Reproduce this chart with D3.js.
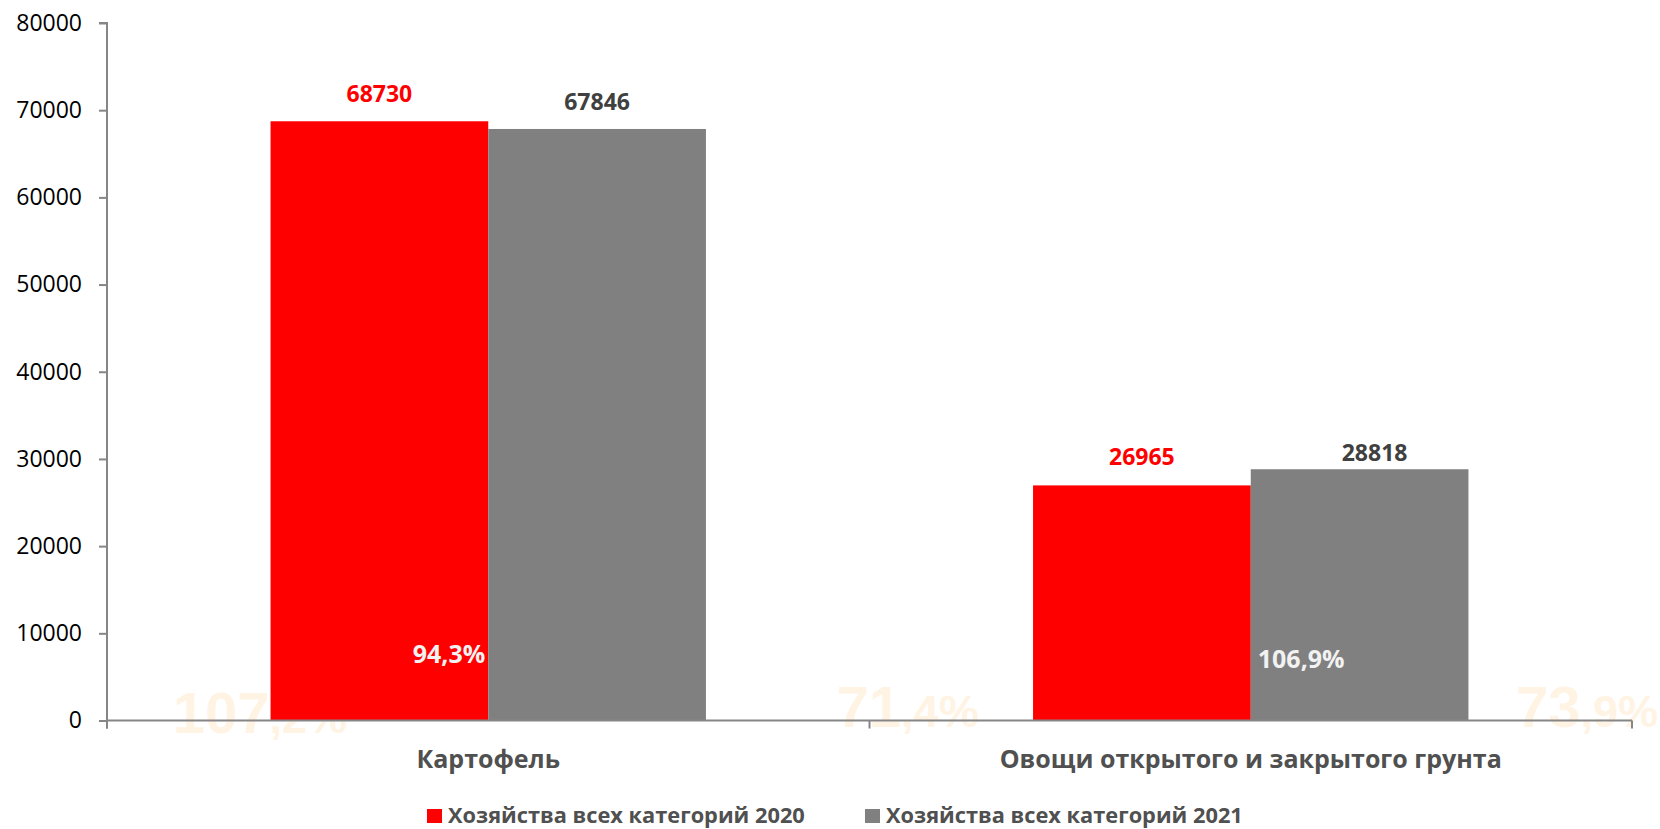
<!DOCTYPE html>
<html>
<head>
<meta charset="utf-8">
<script src="https://cdn.jsdelivr.net/npm/d3@7"></script>
<style>
  body { margin: 0; background: #fff; }
  svg { display: block; }
</style>
</head>
<body>
<div id="chart"></div>
<script>
// data
const categories = ["Картофель", "Овощи открытого и закрытого грунта"];
const seriesNames = ["Хозяйства всех категорий 2020", "Хозяйства всех категорий 2021"];
const values2020 = [68730, 26965];
const values2021 = [67846, 28818];
const innerPercents = ["94,3%", "106,9%"];
const fadedPercents = ["107,2%", "71,4%", "73,9%"];
const yTicks = [0, 10000, 20000, 30000, 40000, 50000, 60000, 70000, 80000];

const width = 1660, height = 829;
const margin = {top: 23, right: 28, bottom: 108.5, left: 107};
const innerW = width - margin.left - margin.right,
      innerH = height - margin.top - margin.bottom;

const barColors = ["#ff0000", "#808080"],
      labelColors = ["#ff0000", "#404040"],
      axisColor = "#868686",
      textGrey = "#505050";

const svg = d3.select("#chart").append("svg")
    .attr("width", width)
    .attr("height", height);

const g = svg.append("g")
    .attr("transform", `translate(${margin.left},${margin.top})`);

// scales
const x0 = d3.scaleBand().domain(categories).range([0, innerW]);
const groupW = x0.bandwidth() * 0.571;
const x1 = d3.scaleBand().domain([0, 1])
    .range([(x0.bandwidth() - groupW) / 2, (x0.bandwidth() + groupW) / 2]);
const y = d3.scaleLinear().domain([0, 80000]).range([innerH, 0]);

// faded percent labels sit behind the bars
const fadedX = d3.scaleLinear().domain([0, 1]).range([0, innerW]);
const fadedPos = [0.1003, 0.525, 0.9705];
fadedPercents.forEach((lab, i) => {
    let parts = lab.split(",");
    let t = g.append("text")
        .attr("x", fadedX(fadedPos[i]))
        .attr("y", innerH + (i === 0 ? 12.5 : 6.5))
        .attr("text-anchor", "middle")
        .style("font-family", "'Liberation Sans', Arial, sans-serif")
        .style("font-weight", "bold")
        .style("fill", "#fff3e4");
    t.append("tspan").style("font-size", "58px").text(parts[0]);
    t.append("tspan").style("font-size", "45px").text("," + parts[1]);
});

// bars
const rows = categories.map((c, i) => ({cat: c, vals: [values2020[i], values2021[i]]}));

const groups = g.selectAll(".cat-g")
    .data(rows)
    .enter()
    .append("g")
    .attr("class", "cat-g")
    .attr("transform", d => `translate(${x0(d.cat)},0)`);

groups.selectAll("rect")
    .data(d => d.vals.map((v, k) => ({k: k, v: v})))
    .enter()
    .append("rect")
    .attr("x", d => x1(d.k))
    .attr("y", d => y(d.v))
    .attr("width", x1.bandwidth())
    .attr("height", d => innerH - y(d.v))
    .style("fill", d => barColors[d.k]);

// value labels (the 28818 label sits lower in the original)
const labelGap = [[19.5, 19], [20.5, 8.5]],
      labelNudge = [[0, 0], [0, 15]];
groups.each(function(d, i) {
    d3.select(this).selectAll(".val-label")
        .data(d.vals)
        .enter()
        .append("text")
        .attr("class", "val-label")
        .attr("x", (v, k) => x1(k) + x1.bandwidth() / 2 + labelNudge[i][k])
        .attr("y", (v, k) => y(v) - labelGap[i][k])
        .attr("text-anchor", "middle")
        .style("font-family", "'Open Sans', sans-serif")
        .style("font-weight", "bold")
        .style("font-size", "23px")
        .style("fill", (v, k) => labelColors[k])
        .text(v => v);
});

// percent labels inside the bars
g.append("text")
    .attr("x", x0(categories[0]) + x1(0) + x1.bandwidth() - 3)
    .attr("y", y(6600))
    .attr("text-anchor", "end")
    .style("font-family", "'Open Sans', sans-serif")
    .style("font-weight", "bold")
    .style("font-size", "25px")
    .style("fill", "#f2f2f2")
    .text(innerPercents[0]);

g.append("text")
    .attr("x", x0(categories[1]) + x1(1) + 7)
    .attr("y", y(6000))
    .attr("text-anchor", "start")
    .style("font-family", "'Open Sans', sans-serif")
    .style("font-weight", "bold")
    .style("font-size", "25px")
    .style("fill", "#f2f2f2")
    .text(innerPercents[1]);

// y axis
const yAxis = g.append("g")
    .call(d3.axisLeft(y).tickValues(yTicks).tickSize(8).tickPadding(17).tickFormat(d3.format("d")));
yAxis.select(".domain").attr("stroke", axisColor).attr("stroke-width", 2)
    .attr("d", `M-8,${y(80000)}H0V${innerH + 8}`);
yAxis.selectAll(".tick line").attr("stroke", axisColor).attr("stroke-width", 2);
yAxis.selectAll(".tick text")
    .style("font-family", "'Open Sans', sans-serif")
    .style("font-size", "23px")
    .style("fill", "#000");

// x axis
const xAxis = g.append("g").attr("transform", `translate(0,${innerH})`);
xAxis.append("line")
    .attr("x1", 0).attr("x2", innerW)
    .attr("stroke", axisColor).attr("stroke-width", 2);
xAxis.selectAll(".sep")
    .data(categories.map(c => x0(c)).concat([innerW]))
    .enter()
    .append("line")
    .attr("class", "sep")
    .attr("x1", d => d).attr("x2", d => d)
    .attr("y1", 0).attr("y2", 8)
    .attr("stroke", axisColor).attr("stroke-width", 2);
xAxis.selectAll(".cat-label")
    .data(categories)
    .enter()
    .append("text")
    .attr("class", "cat-label")
    .attr("x", d => x0(d) + x0.bandwidth() / 2)
    .attr("y", 47.5)
    .attr("text-anchor", "middle")
    .style("font-family", "'Open Sans', sans-serif")
    .style("font-weight", "bold")
    .style("font-size", "25px")
    .style("fill", textGrey)
    .text(d => d);

// legend
const legendX = [427, 865];
const legend = svg.selectAll(".legend-item")
    .data(seriesNames)
    .enter()
    .append("g")
    .attr("class", "legend-item")
    .attr("transform", (d, i) => `translate(${legendX[i]},809)`);
legend.append("rect")
    .attr("width", 15).attr("height", 14)
    .style("fill", (d, i) => barColors[i]);
legend.append("text")
    .attr("x", 21)
    .attr("y", 14)
    .style("font-family", "'Open Sans', sans-serif")
    .style("font-weight", "bold")
    .style("font-size", "21.8px")
    .style("fill", textGrey)
    .text(d => d);
</script>
</body>
</html>
